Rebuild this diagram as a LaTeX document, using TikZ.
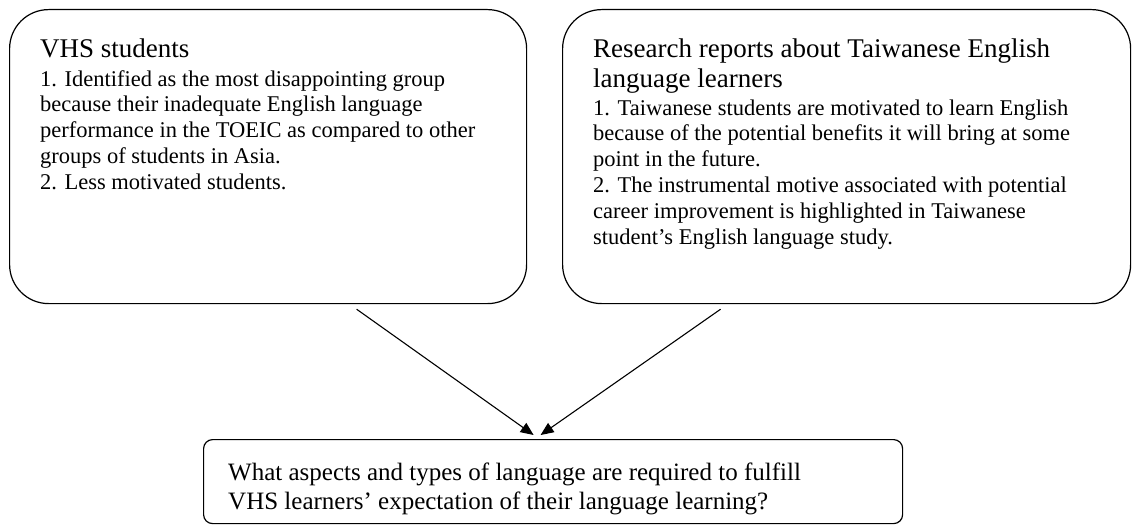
\documentclass[tikz,border=0pt]{standalone}
\usepackage{fontspec}
\setmainfont{Liberation Serif}
\usetikzlibrary{arrows.meta,positioning}

\tikzset{
  panel/.style={draw, line width=1.2pt, rounded corners=39pt, anchor=north west, inner sep=0pt},
  qbox/.style={draw, line width=1.2pt, rounded corners=9pt, anchor=north west, inner sep=0pt},
  % multi-line nodes sit on the baseline of their last line
  headtext/.style={anchor=base west, align=left, inner sep=0pt, font=\fontsize{27}{29}\selectfont},
  bodytext/.style={anchor=base west, align=left, inner sep=0pt, font=\fontsize{22.5}{25.8}\selectfont},
  asktext/.style={anchor=base west, align=left, inner sep=0pt, font=\fontsize{25}{29}\selectfont},
  flow/.style={line width=1.1pt, -{Triangle[length=13pt,width=11pt]}}
}

\begin{document}
\begin{tikzpicture}[x=1pt, y=-1pt]
\useasboundingbox (0,0) rectangle (1132,527);

% Two source boxes and the question box
\node[panel, minimum width=517pt, minimum height=294pt] (vhs) at (9,9) {};
\node[panel, minimum width=568pt, minimum height=294pt] (reports) at (562,9) {};
\node[qbox, minimum width=699pt, minimum height=84pt] (question) at (203,439) {};

% Left box text
\node[headtext] (vhshead) at (40,58) {VHS students};
\node[bodytext] (vhsbody) at (40,189.2) {1. Identified as the most disappointing group\\
because their inadequate English language\\
performance in the TOEIC as compared to other\\
groups of students in Asia.\\
2. Less motivated students.};

% Right box text
\node[headtext] (rephead) at (593,87) {Research reports about Taiwanese English\\
language learners};
\node[bodytext] (repbody) at (593,244) {1. Taiwanese students are motivated to learn English\\
because of the potential benefits it will bring at some\\
point in the future.\\
2. The instrumental motive associated with potential\\
career improvement is highlighted in Taiwanese\\
student’s English language study.};

% Question text
\node[asktext] (qtext) at (228,509) {What aspects and types of language are required to fulfill\\
VHS learners’ expectation of their language learning?};

% Arrows into the question
\draw[flow] ([xshift=88.5pt,yshift=-5pt]vhs.south) -- ([xshift=-19.5pt,yshift=4pt]question.north);
\draw[flow] ([xshift=-126pt,yshift=-5pt]reports.south) -- ([xshift=-12.5pt,yshift=4pt]question.north);

\end{tikzpicture}
\end{document}
